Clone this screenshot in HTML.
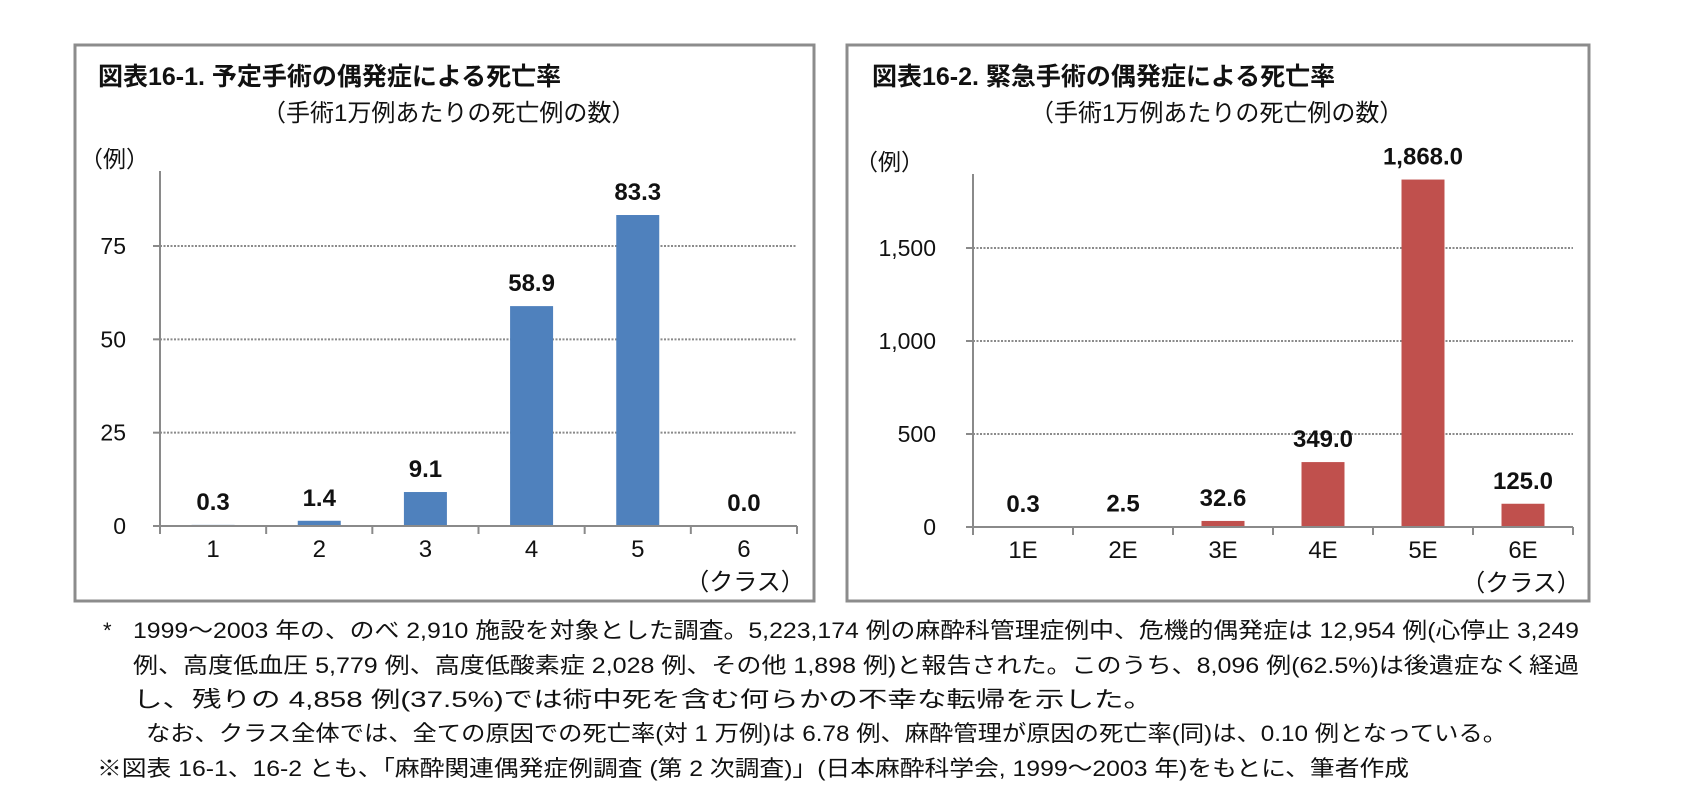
<!DOCTYPE html>
<html><head><meta charset="utf-8">
<style>
html,body{margin:0;padding:0;background:#fff;}
svg{display:block;}
text{font-family:"Liberation Sans Narrow","Liberation Sans","Noto Sans CJK JP",sans-serif;fill:#111;}
.jp{font-family:"Liberation Sans Narrow","Liberation Sans","Noto Sans CJK JP",sans-serif;}
</style></head>
<body>
<svg id="root" width="1686" height="791" viewBox="0 0 1686 791" xmlns="http://www.w3.org/2000/svg">
  <rect x="75" y="45" width="739" height="556" fill="#fff" stroke="#8c8c8c" stroke-width="3"/>
  <rect x="847" y="45" width="742" height="556" fill="#fff" stroke="#8c8c8c" stroke-width="3"/>
  <text x="98" y="85" font-size="25" font-weight="bold">図表16-1.  予定手術の偶発症による死亡率</text>
  <text x="262" y="121" font-size="24">（手術1万例あたりの死亡例の数）</text>
  <text x="80" y="167" font-size="23">（例）</text>
  <text x="872" y="85" font-size="25" font-weight="bold">図表16-2.  緊急手術の偶発症による死亡率</text>
  <text x="1030" y="121" font-size="24">（手術1万例あたりの死亡例の数）</text>
  <text x="855" y="170" font-size="23">（例）</text>
  <g id="c1"></g>
  <g id="c2"></g>
  <g font-size="22">
    <text x="103" y="638">*</text>
    <text x="133" y="638" textLength="1446" lengthAdjust="spacingAndGlyphs">1999～2003 年の、のべ 2,910 施設を対象とした調査。5,223,174 例の麻酔科管理症例中、危機的偶発症は 12,954 例(心停止 3,249</text>
    <text x="133" y="673" textLength="1446" lengthAdjust="spacingAndGlyphs">例、高度低血圧 5,779 例、高度低酸素症 2,028 例、その他 1,898 例)と報告された。このうち、8,096 例(62.5%)は後遺症なく経過</text>
    <text x="133" y="707" textLength="1020" lengthAdjust="spacingAndGlyphs">し、残りの 4,858 例(37.5%)では術中死を含む何らかの不幸な転帰を示した。</text>
    <text x="146" y="741" textLength="1361" lengthAdjust="spacingAndGlyphs">なお、クラス全体では、全ての原因での死亡率(対 1 万例)は 6.78 例、麻酔管理が原因の死亡率(同)は、0.10 例となっている。</text>
    <text x="97" y="776" textLength="1312" lengthAdjust="spacingAndGlyphs">※図表 16-1、16-2 とも、「麻酔関連偶発症例調査 (第 2 次調査)」(日本麻酔科学会, 1999～2003 年)をもとに、筆者作成</text>
  </g>
</svg>
<script>
const cats1 = ["1","2","3","4","5","6"];
const vals1 = [0.3, 1.4, 9.1, 58.9, 83.3, 0.0];
const labels1 = ["0.3","1.4","9.1","58.9","83.3","0.0"];
const ticks1 = [0, 25, 50, 75];
const tickLabels1 = ["0","25","50","75"];

const cats2 = ["1E","2E","3E","4E","5E","6E"];
const vals2 = [0.3, 2.5, 32.6, 349.0, 1868.0, 125.0];
const labels2 = ["0.3","2.5","32.6","349.0","1,868.0","125.0"];
const ticks2 = [0, 500, 1000, 1500];
const tickLabels2 = ["0","500","1,000","1,500"];

const NS = "http://www.w3.org/2000/svg";
function mk(parent, tag, attrs){
  const e = document.createElementNS(NS, tag);
  for (const k in attrs) e.setAttribute(k, attrs[k]);
  parent.appendChild(e);
  return e;
}
function draw(g, cfg){
  const y = v => cfg.y0 - (v - 0) / cfg.max * (cfg.y0 - cfg.yTop);
  const step = (cfg.x1 - cfg.x0) / cfg.cats.length;
  const x = i => cfg.x0 + step * (i + 0.5);
  cfg.ticks.forEach((t, i) => {
    if (t !== 0) {
      const gl = mk(g, "line", {x1: cfg.x0, x2: cfg.x1, y1: y(t), y2: y(t), stroke: "#8a8a8a", "stroke-width": 2, "stroke-dasharray": "2 1.5"});
      
      
    }
    const tk = mk(g, "line", {x1: cfg.x0 - 7, x2: cfg.x0, y1: y(t), y2: y(t), stroke: "#8a8a8a", "stroke-width": 2});
    
    
    const tl = mk(g, "text", {x: cfg.labelX, y: y(t) + 8, "font-size": 23, "text-anchor": "end"});
    tl.textContent = cfg.tickLabels[i];
    
    
  });
  cfg.cats.forEach((c, i) => {
    const top = y(cfg.vals[i]);
    const b = mk(g, "rect", {x: x(i) - 21.5, y: top, width: 43, height: Math.max(0, cfg.y0 - top), fill: cfg.color});
    
    
    const vl = mk(g, "text", {x: x(i), y: top - 15, "font-size": 24, "font-weight": "bold", "text-anchor": "middle"});
    vl.textContent = cfg.labels[i];
    
    
    const xl = mk(g, "text", {x: x(i), y: cfg.y0 + 31, "font-size": 24, "text-anchor": "middle"});
    xl.textContent = c;
    
    
  });
  for (let i = 0; i <= cfg.cats.length; i++) {
    const xt = cfg.x0 + step * i;
    const t = mk(g, "line", {x1: xt, x2: xt, y1: cfg.y0, y2: cfg.y0 + 8, stroke: "#8a8a8a", "stroke-width": 2});
    
    
  }
  const ya = mk(g, "line", {x1: cfg.x0, x2: cfg.x0, y1: cfg.axisTop, y2: cfg.y0 + 8, stroke: "#8a8a8a", "stroke-width": 2});
  
  
  const xa = mk(g, "line", {x1: cfg.x0 - 7, x2: cfg.x1, y1: cfg.y0, y2: cfg.y0, stroke: "#8a8a8a", "stroke-width": 2});
  
  
  const xt = mk(g, "text", {x: cfg.x1 - 52, y: cfg.y0 + 64, "font-size": 24, "text-anchor": "middle"});
  xt.textContent = "（クラス）";
  
  
}
draw(document.getElementById("c1"), {cats: cats1, vals: vals1, labels: labels1, ticks: ticks1, tickLabels: tickLabels1,
  x0: 160, x1: 797, y0: 526, yTop: 246, max: 75, axisTop: 171, labelX: 126, color: "#4f81bd"});
draw(document.getElementById("c2"), {cats: cats2, vals: vals2, labels: labels2, ticks: ticks2, tickLabels: tickLabels2,
  x0: 973, x1: 1573, y0: 527, yTop: 248, max: 1500, axisTop: 174, labelX: 936, color: "#c0504d"});
</script>
</body></html>
